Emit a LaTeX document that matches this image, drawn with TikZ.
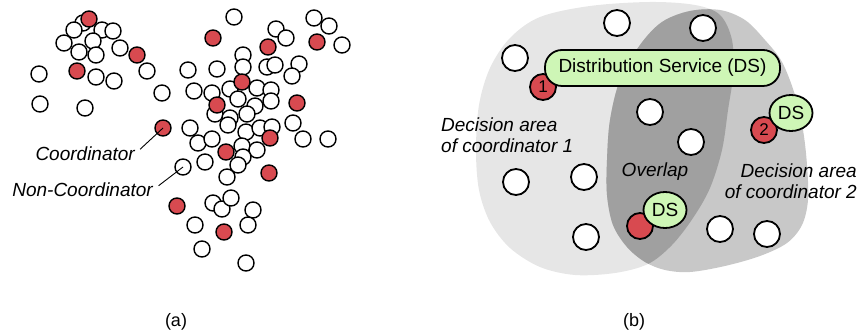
\documentclass[tikz,border=0pt]{standalone}
\usepackage{fontspec}
\setmainfont{Liberation Sans}
\usetikzlibrary{shapes.geometric}

\definecolor{coordred}{RGB}{216,74,80}
\definecolor{dsgreen}{RGB}{206,246,182}
\definecolor{areaonegray}{RGB}{230,230,230}
\definecolor{areatwogray}{RGB}{200,200,200}
\definecolor{overlapgray}{RGB}{160,160,160}

\tikzset{
    nonco/.style={circle, draw, line width=1.4pt, fill=white, minimum size=16pt, inner sep=0pt},
    coord/.style={nonco, fill=coordred},
    bignonco/.style={nonco, line width=1.8pt, minimum size=26pt},
    bigcoord/.style={bignonco, fill=coordred, font=\fontsize{17}{17}\selectfont},
    dsbox/.style={draw, line width=1.8pt, fill=dsgreen, rounded corners=17pt, minimum width=235pt, minimum height=36pt, inner sep=0pt, font=\fontsize{19}{19}\selectfont},
    dssmall/.style={ellipse, draw, line width=1.8pt, fill=dsgreen, minimum width=43pt, minimum height=36pt, inner sep=0pt, font=\fontsize{19}{19}\selectfont},
    lbl/.style={inner sep=0pt, font=\fontsize{19}{21}\selectfont\itshape},
    leader/.style={line width=0.9pt, shorten <=7pt},
    caption/.style={inner sep=0pt, font=\fontsize{18}{18}\selectfont}
}

\def\areaonepath{plot[smooth cycle, tension=0.55] coordinates {
    (476,150) (479,105) (490,68) (510,38) (540,17) (590,6) (650,2) (695,5)
    (720,15) (732,40) (733,75) (728,110) (722,150) (710,188) (693,218)
    (672,245) (648,264) (615,273) (575,275) (540,267) (510,248) (490,222) (479,190)}}
\def\areatwopath{plot[smooth cycle, tension=0.55] coordinates {
    (690,11) (720,10) (745,20) (765,40) (782,62) (795,95) (803,130) (807,165)
    (808,200) (802,225) (787,243) (760,256) (725,266) (690,272) (665,270)
    (645,262) (627,247) (613,225) (607,195) (607,160) (610,120) (620,80)
    (640,45) (662,22)}}

\begin{document}
\begin{tikzpicture}[x=1pt, y=-1pt]
    \useasboundingbox (0,0) rectangle (860,336);

    % (a) Non-Coordinators
    \foreach \px/\py [count=\i] in {83/23, 74/30, 102/30, 113/31, 93/41, 64/43, 79/52, 96/55,
        120/48, 147/71, 96/77, 114/81, 39/74, 40/104, 85/108, 162/93, 188/70, 194/91,
        190/128, 234/17, 314/18, 329/26, 276/29, 286/38, 342/45, 243/55, 217/69, 243/67,
        267/67, 275/65, 299/64, 292/76, 212/93, 230/89, 257/88, 271/90, 238/99, 255/106,
        271/101, 215/114, 230/118, 247/114, 228/125, 246/132, 260/128, 272/127, 293/123,
        303/139, 328/139, 198/143, 212/139, 242/146, 257/150, 243/157, 238/165, 205/162,
        227/177, 213/203, 222/209, 231/198, 253/210, 248/225, 195/225, 202/249, 246/263}
        \node[nonco] (n\i) at (\px,\py) {};
    \node[nonco] (noncoex) at (183,167) {};

    % (a) Coordinators
    \foreach \px/\py [count=\i] in {89/19, 137/55, 77/71, 213/38, 268/47, 317/42, 242/82,
        217/105, 297/103, 270/138, 226/152, 269/173, 177/206, 224/232}
        \node[coord] (c\i) at (\px,\py) {};
    \node[coord] (coordex) at (163,128) {};

    % Legend
    \node[lbl, anchor=east] (coordlbl) at (135,154) {Coordinator};
    \node[lbl, anchor=east] (noncolbl) at (153,190) {Non-Coordinator};
    \draw[leader] (coordlbl.east) -- (coordex.center);
    \draw[leader] (noncolbl.east) -- (noncoex.center);

    % (b) Decision areas and overlap
    \fill[areaonegray] \areaonepath;
    \fill[areatwogray] \areatwopath;
    \begin{scope}
        \clip \areaonepath;
        \fill[overlapgray] \areatwopath;
    \end{scope}

    % (b) Nodes
    \node[bignonco] (w1) at (515,58) {};
    \node[bignonco] (w2) at (617,23) {};
    \node[bignonco] (w3) at (703,28) {};
    \node[bignonco] (w4) at (650,112) {};
    \node[bignonco] (w5) at (691,142) {};
    \node[bignonco] (w6) at (516,182) {};
    \node[bignonco] (w7) at (584,177) {};
    \node[bignonco] (w8) at (586,237) {};
    \node[bignonco] (w9) at (720,229) {};
    \node[bignonco] (w10) at (767,234) {};

    \node[bigcoord] (one) at (543,87) {1};
    \node[dsbox] (dsmain) at (662.5,68) {Distribution Service (DS)};
    \node[bigcoord] (two) at (764,130) {2};
    \node[dssmall] (dstwo) at (791,113) {DS};
    \node[bigcoord] (three) at (640,226) {};
    \node[dssmall] (dsthree) at (665,210) {DS};

    % Area labels
    \node[lbl, anchor=west, align=left] (areaonelbl) at (441,135) {Decision area\\of coordinator 1};
    \node[lbl, anchor=east, align=right] (areatwolbl) at (857,181) {Decision area\\of coordinator 2};
    \node[lbl] (overlaplbl) at (655,172) {Overlap};

    % Captions
    \node[caption] (capa) at (176,322) {(a)};
    \node[caption] (capb) at (634,322) {(b)};
\end{tikzpicture}
\end{document}
